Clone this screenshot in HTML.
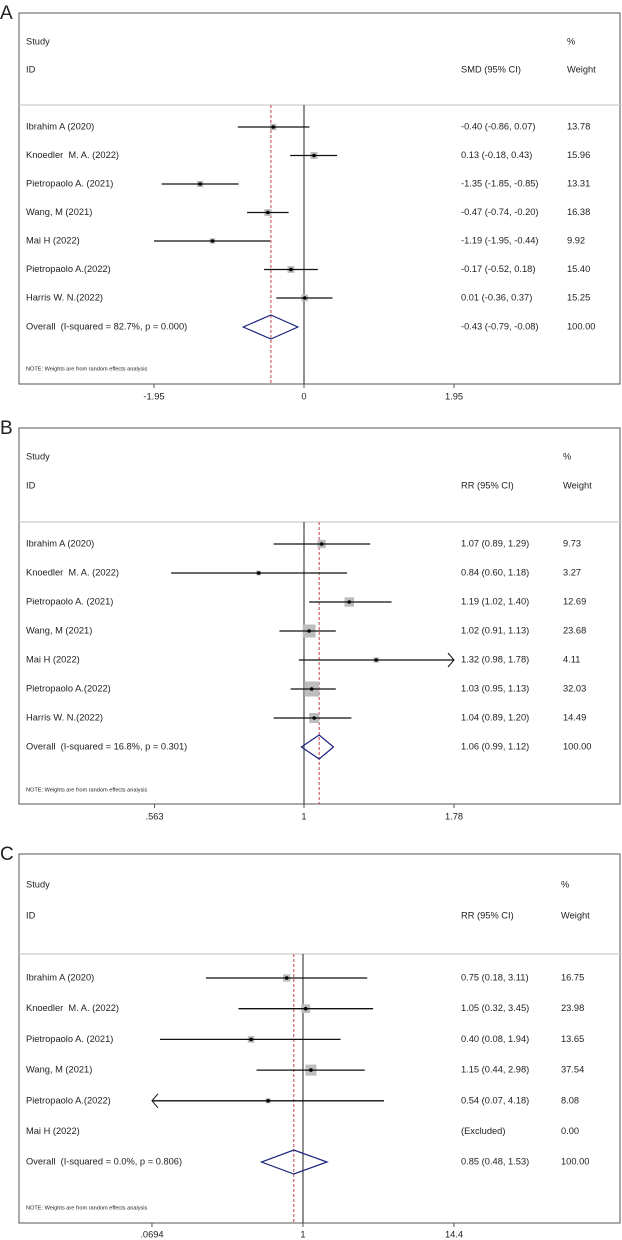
<!DOCTYPE html>
<html><head><meta charset="utf-8"><style>
body{margin:0;background:#fff;}
svg{display:block;font-family:"Liberation Sans",Arial,sans-serif;}
</style></head><body>
<svg id="chart" width="622" height="1240" viewBox="0 0 622 1240" xmlns="http://www.w3.org/2000/svg"></svg>
<script>
// Panel A (SMD, linear)
const aStudies = ["Ibrahim A (2020)","Knoedler\u00a0 M. A. (2022)","Pietropaolo A. (2021)","Wang, M (2021)","Mai H (2022)","Pietropaolo A.(2022)","Harris W. N.(2022)"];
const aEst = [-0.40,0.13,-1.35,-0.47,-1.19,-0.17,0.01];
const aLo = [-0.86,-0.18,-1.85,-0.74,-1.95,-0.52,-0.36];
const aHi = [0.07,0.43,-0.85,-0.20,-0.44,0.18,0.37];
const aWeight = [13.78,15.96,13.31,16.38,9.92,15.40,15.25];
const aOverall = [-0.43,-0.79,-0.08];
const aTicks = [-1.95,0,1.95];
const aTickLabels = ["-1.95","0","1.95"];
// Panel B (RR, log)
const bStudies = ["Ibrahim A (2020)","Knoedler\u00a0 M. A. (2022)","Pietropaolo A. (2021)","Wang, M (2021)","Mai H (2022)","Pietropaolo A.(2022)","Harris W. N.(2022)"];
const bEst = [1.07,0.84,1.19,1.02,1.32,1.03,1.04];
const bLo = [0.89,0.60,1.02,0.91,0.98,0.95,0.89];
const bHi = [1.29,1.18,1.40,1.13,1.78,1.13,1.20];
const bWeight = [9.73,3.27,12.69,23.68,4.11,32.03,14.49];
const bOverall = [1.06,0.99,1.12];
const bTicks = [0.563,1,1.78];
const bTickLabels = [".563","1","1.78"];
// Panel C (RR, log)
const cStudies = ["Ibrahim A (2020)","Knoedler\u00a0 M. A. (2022)","Pietropaolo A. (2021)","Wang, M (2021)","Pietropaolo A.(2022)","Mai H (2022)"];
const cEst = [0.75,1.05,0.40,1.15,0.54,null];
const cLo = [0.18,0.32,0.08,0.44,0.07,null];
const cHi = [3.11,3.45,1.94,2.98,4.18,null];
const cWeight = [16.75,23.98,13.65,37.54,8.08,0.00];
const cOverall = [0.85,0.48,1.53];
const cTicks = [0.0694,1,14.4];
const cTickLabels = [".0694","1","14.4"];

const NS="http://www.w3.org/2000/svg";
const svg=document.getElementById('chart');
function mk(tag,attrs,parent){const e=document.createElementNS(NS,tag);for(const k in attrs)e.setAttribute(k,attrs[k]);(parent||svg).appendChild(e);return e;}
function txt(s,x,y,size,parent,anchor){const t=mk('text',{x:x,y:y,'font-size':size,fill:'#222','dominant-baseline':'middle','text-anchor':anchor||'start'},parent);t.textContent=s;return t;}
function f2(v){return v.toFixed(2);}

function panel(cfg){
  const g=mk('g',{});
  
  
  const L=txt(cfg.letter,0,cfg.top+1,19,g);
  
  
  const box=mk('rect',{x:19,y:cfg.top,width:601,height:cfg.bottom-cfg.top,fill:'none',stroke:'#555','stroke-width':1},g);
  
  
  const sep=mk('line',{x1:19,x2:622,y1:cfg.header,y2:cfg.header,stroke:'#ccc','stroke-width':1.2},g);
  
  
  const fs=9.3;
  let t;
  t=txt('Study',26,cfg.studyY,fs,g);
  t=txt('ID',26,cfg.idY,fs,g);
  t=txt('%',cfg.wx,cfg.studyY,fs,g);
  t=txt('Weight',cfg.wx,cfg.idY,fs,g);
  t=txt(cfg.ciHead,461,cfg.idY,fs,g);
  const X=cfg.X;
  const nl=mk('line',{x1:X(cfg.nullV),x2:X(cfg.nullV),y1:cfg.header,y2:cfg.bottom,stroke:'#222','stroke-width':1},g);
  
  
  const ox=X(cfg.overall[0]);
  const dl=mk('line',{x1:ox,x2:ox,y1:cfg.header,y2:cfg.bottom,stroke:'#c0404a','stroke-width':1,'stroke-dasharray':'3,2'},g);
  
  
  const maxW=Math.max(...cfg.weight);
  const xmin=cfg.ticks[0], xmax=cfg.ticks[cfg.ticks.length-1];
  for(let i=0;i<cfg.studies.length;i++){
    const y=cfg.rows[i];
    t=txt(cfg.studies[i],26,y,fs,g);
    const est=cfg.est[i];
    if(est===null){
      t=txt('(Excluded)',461,y,fs,g);
    }else{
      t=txt(f2(est)+' ('+f2(cfg.lo[i])+', '+f2(cfg.hi[i])+')',461,y,fs,g);
      const side=cfg.maxSide*Math.sqrt(cfg.weight[i]/maxW);
      const sq=mk('rect',{x:X(est)-side/2,y:y-side/2,width:side,height:side,fill:'#bdbdbd'},g);
      
      
      const loClip=cfg.log ? cfg.lo[i]<=xmin*1.02 : cfg.lo[i]<xmin-0.001;
      const hiClip=cfg.log ? cfg.hi[i]>=xmax/1.02 : cfg.hi[i]>xmax+0.001;
      const x1=loClip?X(xmin):X(cfg.lo[i]);
      const x2=hiClip?X(xmax):X(cfg.hi[i]);
      const ci=mk('line',{x1:x1,x2:x2,y1:y,y2:y,stroke:'#111','stroke-width':1.3},g);
      
      
      if(loClip){const a=mk('polyline',{points:(x1+6)+','+(y-7)+' '+x1+','+y+' '+(x1+6)+','+(y+7),fill:'none',stroke:'#111','stroke-width':1},g);}
      if(hiClip){const a=mk('polyline',{points:(x2-6)+','+(y-7)+' '+x2+','+y+' '+(x2-6)+','+(y+7),fill:'none',stroke:'#111','stroke-width':1},g);}
      const pt=mk('circle',{cx:X(est),cy:y,r:1.8,fill:'#000'},g);
      
      
    }
    t=txt(f2(cfg.weight[i]),cfg.wx,y,fs,g);
  }
  const oy=cfg.overallY;
  t=txt('Overall\u00a0 (I-squared = '+cfg.isq+', p = '+cfg.p+')',26,oy,fs,g);
  const dx1=X(cfg.overall[1]),dx2=X(cfg.overall[2]);
  const dm=mk('polygon',{points:dx1+','+oy+' '+ox+','+(oy-12)+' '+dx2+','+oy+' '+ox+','+(oy+12),fill:'none',stroke:'#1a237e','stroke-width':1.2},g);
  
  
  t=txt(f2(cfg.overall[0])+' ('+f2(cfg.overall[1])+', '+f2(cfg.overall[2])+')',461,oy,fs,g);
  t=txt('100.00',cfg.wx,oy,fs,g);
  t=txt('NOTE: Weights are from random effects analysis',26,cfg.noteY,5.6,g);
  for(let k=0;k<cfg.ticks.length;k++){
    const tx=X(cfg.ticks[k]);
    const tm=mk('line',{x1:tx,x2:tx,y1:cfg.bottom,y2:cfg.bottom+4,stroke:'#555','stroke-width':1},g);
    
    
    t=txt(cfg.tickLabels[k],tx,cfg.tickY,fs,g,'middle');
  }
}

function rowsFrom(start,step,n){const r=[];for(let i=0;i<n;i++)r.push(start+step*i);return r;}

panel({name:'panel-a',letter:'A',top:13,bottom:384,header:105,studyY:42,idY:70,
  rows:rowsFrom(127,28.5,7),overallY:327,noteY:369,tickY:397,wx:567,ciHead:'SMD (95% CI)',
  studies:aStudies,est:aEst,lo:aLo,hi:aHi,weight:aWeight,overall:aOverall,ticks:aTicks,tickLabels:aTickLabels,
  isq:'82.7%',p:'0.000',nullV:0,log:false,maxSide:7,
  X:v=>304+v*(150/1.95)});
panel({name:'panel-b',letter:'B',top:428,bottom:804,header:522,studyY:457,idY:486,
  rows:rowsFrom(544,29,7),overallY:747,noteY:790,tickY:817,wx:563,ciHead:'RR (95% CI)',
  studies:bStudies,est:bEst,lo:bLo,hi:bHi,weight:bWeight,overall:bOverall,ticks:bTicks,tickLabels:bTickLabels,
  isq:'16.8%',p:'0.301',nullV:1,log:true,maxSide:15,
  X:v=>304+Math.log(v)*(150/Math.log(1.78))});
panel({name:'panel-c',letter:'C',top:854,bottom:1223,header:954,studyY:885,idY:916,
  rows:rowsFrom(978,30.7,6),overallY:1162,noteY:1208,tickY:1235,wx:561,ciHead:'RR (95% CI)',
  studies:cStudies,est:cEst,lo:cLo,hi:cHi,weight:cWeight,overall:cOverall,ticks:cTicks,tickLabels:cTickLabels,
  isq:'0.0%',p:'0.806',nullV:1,log:true,maxSide:11,
  X:v=>303+Math.log(v)*(151/Math.log(14.4))});
</script>
</body></html>
